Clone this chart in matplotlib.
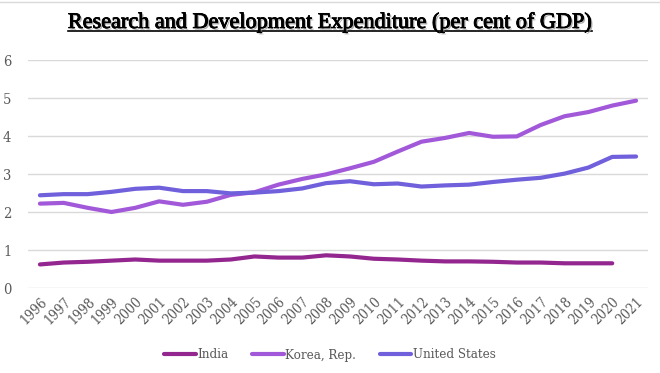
import numpy as np
import matplotlib
matplotlib.use('Agg')
import matplotlib.pyplot as plt
import matplotlib.patheffects as pe
from matplotlib.lines import Line2D

years = list(range(1996, 2022))
india = [0.62, 0.67, 0.69, 0.72, 0.75, 0.72, 0.72, 0.72, 0.75, 0.83, 0.80, 0.80, 0.86,
         0.83, 0.77, 0.75, 0.72, 0.70, 0.70, 0.69, 0.67, 0.67, 0.65, 0.65, 0.65]
korea = [2.22, 2.24, 2.11, 2.00, 2.11, 2.28, 2.19, 2.27, 2.45, 2.52, 2.72, 2.87, 2.99,
         3.15, 3.32, 3.59, 3.85, 3.95, 4.08, 3.98, 3.99, 4.29, 4.52, 4.63, 4.80, 4.93]
usa = [2.44, 2.47, 2.47, 2.53, 2.61, 2.64, 2.55, 2.55, 2.49, 2.51, 2.55, 2.62, 2.76,
       2.81, 2.73, 2.75, 2.67, 2.70, 2.72, 2.79, 2.85, 2.90, 3.01, 3.17, 3.45, 3.46]

c_india = '#93278F'
c_korea = '#A259D9'
c_usa = '#7060DB'
grey = '#595959'
font = 'DejaVu Serif'

fig = plt.figure(figsize=(6.6, 3.73), dpi=100)
ax = fig.add_axes([28 / 660, 1 - 288 / 373, 620 / 660, 228 / 373])

x = np.arange(len(years))
ax.plot(x[:len(india)], india, color=c_india, lw=3, solid_capstyle='round', label='India')
ax.plot(x, korea, color=c_korea, lw=3, solid_capstyle='round', label='Korea, Rep.')
ax.plot(x, usa, color=c_usa, lw=3, solid_capstyle='round', label='United States')

ax.set_xlim(-0.5, len(years) - 0.5)
ax.set_ylim(0, 6)
ax.set_yticks(range(0, 7))
ax.yaxis.grid(True, color='#D9D9D9', lw=1)
ax.set_axisbelow(True)
for s in ax.spines.values():
    s.set_visible(False)
ax.tick_params(length=0, colors=grey)
ax.tick_params(axis='y', pad=12)
ax.tick_params(axis='x', pad=5)
ax.set_xticks(x)
ax.set_xticklabels([str(y) for y in years], rotation=45, ha='right', va='top',
                   rotation_mode='anchor', fontsize=10, fontfamily=font, fontstretch='condensed',
                   color=grey)
for lab in ax.get_yticklabels():
    lab.set_fontfamily(font)
    lab.set_fontstretch('condensed')
    lab.set_fontsize(10.5)
    lab.set_color(grey)

# title with shadow and underline
t = fig.text(0.5, 1 - 23 / 373, 'Research and Development Expenditure (per cent of GDP)',
             ha='center', va='center', fontsize=16, family='Liberation Serif',
             color='black',
             path_effects=[pe.withSimplePatchShadow(offset=(1.2, -1.2), shadow_rgbFace='#999999', alpha=0.8),
                           pe.Stroke(linewidth=0.6, foreground='black'), pe.Normal()])
fig.canvas.draw()
bb = t.get_window_extent()
uy = bb.y0 + 1.5
fig.add_artist(Line2D([bb.x0 / 660, bb.x1 / 660], [uy / 373, uy / 373], color='black', lw=1.2,
                      path_effects=[pe.withSimplePatchShadow(offset=(1, -1), shadow_rgbFace='#999999', alpha=0.8)]))

# top border
fig.add_artist(Line2D([0, 1], [1 - 1.5 / 373, 1 - 1.5 / 373], color='#D9D9D9', lw=1))

leg = fig.legend(loc='center', bbox_to_anchor=(0.5, 1 - 355 / 373), ncol=3, frameon=False,
                 handlelength=2.4, handletextpad=0.1, columnspacing=1.8,
                 prop={'family': font, 'size': 9.5, 'stretch': 'condensed'})
for txt in leg.get_texts():
    txt.set_color(grey)

fig.savefig('out.png', dpi=100)
